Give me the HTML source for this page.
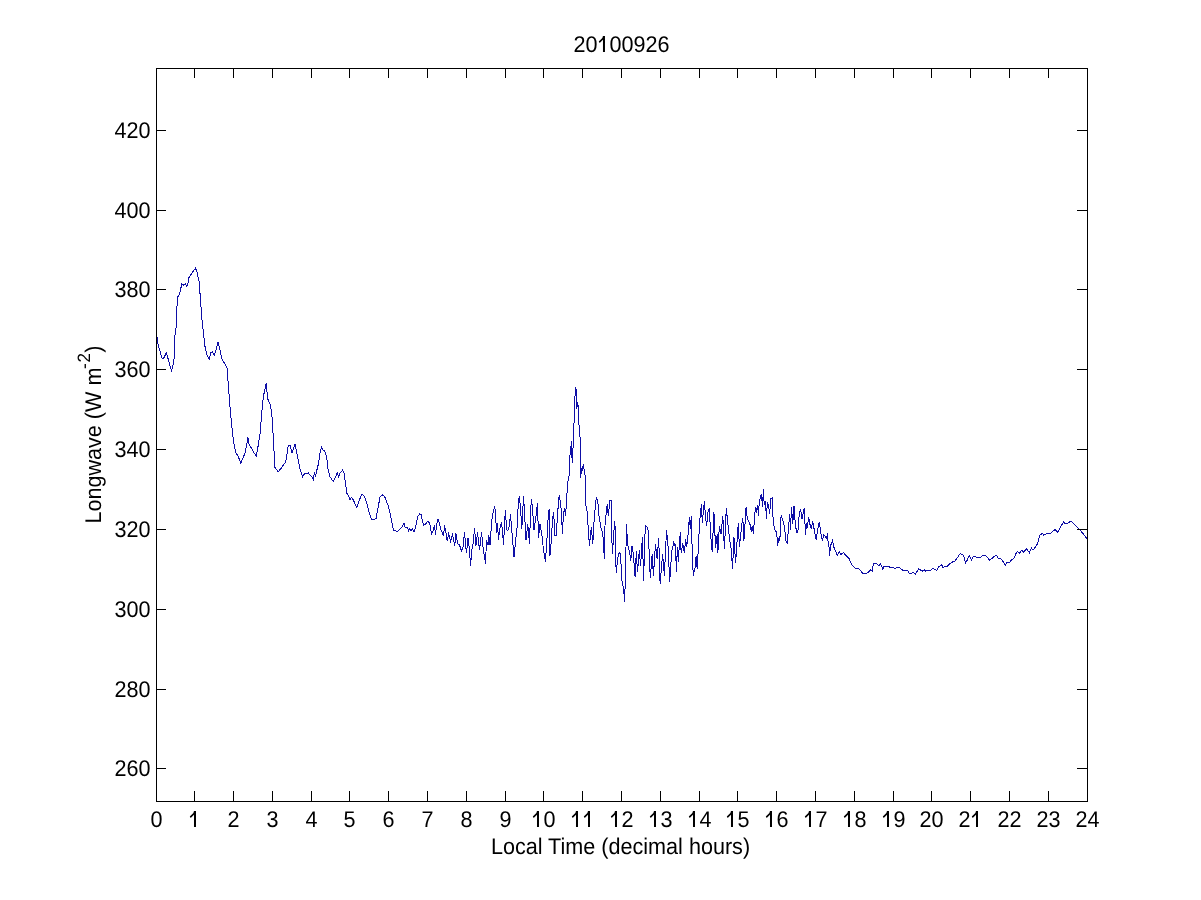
<!DOCTYPE html><html><head><meta charset="utf-8"><style>html,body{margin:0;padding:0;background:#fff;width:1201px;height:900px;overflow:hidden}svg{display:block}text{font-family:"Liberation Sans",sans-serif;fill:#000;text-rendering:geometricPrecision}svg{will-change:transform}</style></head><body>
<svg width="1201" height="900" viewBox="0 0 1201 900">
<rect x="0" y="0" width="1201" height="900" fill="#fff"/>
<path d="M157.2 336.6 L157.6 342.5 L159.4 349.0 L162.3 359.0 L164.5 356.9 L166.2 352.5 L167.3 356.0 L170.2 366.3 L171.7 370.6 L173.1 364.8 L174.3 357.6 L174.6 337.4 L176.0 328.7 L176.7 309.9 L177.7 296.9 L179.6 294.0 L181.8 283.9 L184.0 285.3 L185.4 283.9 L186.8 286.1 L188.3 282.5 L189.0 277.4 L191.9 273.1 L195.5 268.0 L197.0 272.3 L199.1 281.7 L200.6 301.2 L202.0 320.0 L204.9 346.0 L206.7 354.2 L209.2 359.2 L210.8 352.5 L212.5 351.7 L214.2 355.0 L215.8 350.8 L218.0 342.5 L220.0 350.0 L221.7 358.3 L225.0 364.2 L227.2 368.3 L228.3 385.0 L230.0 406.7 L231.7 425.0 L233.3 440.0 L235.8 452.5 L238.3 456.7 L240.8 463.3 L242.5 459.2 L245.0 453.3 L248.0 437.5 L249.2 445.0 L251.7 448.3 L254.2 453.3 L256.3 455.8 L258.3 445.0 L260.3 431.7 L261.7 413.3 L263.3 396.7 L266.3 383.3 L267.5 398.3 L270.0 404.2 L271.7 411.7 L273.3 438.3 L275.0 467.5 L278.3 471.7 L281.7 467.5 L285.8 461.7 L288.3 445.0 L290.0 445.0 L292.0 453.3 L295.0 444.2 L297.5 456.7 L300.0 468.7 L301.3 472.7 L302.7 476.7 L304.7 473.3 L306.7 474.0 L308.3 472.7 L310.0 475.3 L312.0 476.7 L313.3 479.3 L314.4 472.7 L315.7 476.0 L316.7 470.7 L318.4 464.0 L320.0 452.7 L321.6 447.3 L323.3 450.7 L324.7 450.7 L326.7 457.3 L328.0 468.7 L330.0 476.7 L333.1 481.3 L335.3 477.3 L337.3 472.7 L338.7 477.3 L340.0 473.3 L342.7 470.0 L344.3 473.3 L345.3 482.7 L346.9 493.3 L348.7 496.0 L350.0 500.0 L351.3 497.3 L353.3 500.0 L356.7 507.3 L359.3 500.0 L362.0 494.0 L364.7 496.7 L366.7 502.7 L368.7 510.7 L371.3 519.3 L373.3 519.3 L376.0 518.7 L378.0 508.0 L380.0 497.3 L382.0 494.7 L384.7 496.7 L388.0 505.3 L390.7 516.0 L393.3 530.0 L395.0 530.5 L397.0 532.0 L399.0 530.0 L402.0 527.0 L404.0 523.5 L405.0 527.0 L407.0 527.0 L408.5 530.5 L409.5 528.5 L411.0 530.5 L412.5 529.0 L414.0 531.5 L415.5 528.0 L417.5 517.0 L419.5 514.0 L421.2 514.5 L422.5 521.5 L423.5 525.0 L425.5 524.0 L427.5 521.5 L429.5 522.5 L431.5 534.0 L433.0 531.0 L434.5 525.5 L435.5 534.5 L436.5 525.0 L438.0 519.0 L439.5 524.0 L441.0 530.0 L442.5 533.0 L443.5 536.0 L444.5 525.5 L446.0 533.0 L447.2 541.0 L448.5 534.0 L449.5 537.0 L450.5 541.0 L452.5 535.0 L453.5 539.0 L454.7 546.0 L456.0 533.5 L457.5 543.5 L459.5 545.0 L461.5 551.0 L463.0 547.0 L464.5 532.5 L466.0 549.0 L466.5 553.0 L468.0 538.0 L469.5 550.0 L470.5 565.5 L472.0 549.0 L473.0 544.0 L474.5 528.5 L476.0 545.5 L477.5 532.5 L479.5 550.0 L481.5 532.5 L483.0 547.0 L485.5 563.5 L486.5 540.0 L488.0 545.0 L488.8 535.5 L490.0 545.0 L491.5 524.0 L492.5 515.0 L494.5 506.5 L495.5 512.0 L496.5 533.0 L497.5 523.5 L498.5 540.0 L499.5 530.0 L501.5 522.0 L502.5 531.0 L503.5 544.5 L505.0 516.0 L505.5 510.0 L506.5 529.0 L507.8 531.0 L509.0 527.0 L510.5 514.5 L512.0 533.0 L514.0 557.0 L515.5 542.0 L517.0 528.0 L518.5 500.0 L519.5 496.0 L521.0 516.0 L521.8 528.5 L523.5 496.5 L524.5 512.0 L526.0 540.0 L527.8 524.0 L529.5 544.0 L530.5 512.0 L531.5 499.0 L532.5 509.0 L534.0 530.0 L535.5 520.0 L537.5 503.0 L538.5 538.0 L540.0 524.0 L542.0 536.0 L543.5 550.0 L545.5 561.5 L547.0 538.0 L548.5 512.0 L549.5 509.0 L550.0 555.6 L551.7 535.6 L552.4 520.0 L553.6 512.2 L555.0 535.6 L556.1 535.6 L557.8 511.1 L559.1 495.6 L560.6 502.2 L561.7 516.7 L562.4 534.4 L563.3 516.7 L564.4 507.8 L565.6 515.6 L566.7 497.8 L567.8 481.1 L568.9 480.0 L569.4 460.0 L570.6 451.1 L571.4 441.1 L572.2 463.3 L573.1 446.7 L573.7 424.4 L574.4 422.2 L574.8 402.2 L575.3 387.2 L576.3 390.0 L576.7 408.9 L577.8 402.2 L578.3 409.4 L578.7 421.1 L580.0 436.7 L580.8 477.8 L581.3 467.8 L582.2 470.0 L583.3 464.4 L585.3 476.7 L585.8 504.4 L587.2 512.2 L589.4 545.6 L591.3 526.7 L592.8 544.4 L594.4 515.6 L596.4 496.7 L597.8 501.1 L598.9 515.6 L601.1 528.9 L602.8 533.3 L604.4 558.9 L605.0 525.6 L606.1 514.4 L607.2 504.4 L608.3 515.6 L610.0 500.0 L611.5 500.0 L611.8 536.7 L612.4 553.8 L614.6 521.4 L615.5 530.6 L616.1 573.3 L617.9 557.5 L619.2 552.6 L620.4 553.8 L622.2 584.4 L623.4 586.8 L624.7 601.5 L625.6 566.0 L626.5 524.4 L627.4 540.3 L628.3 548.9 L629.6 551.3 L630.8 561.1 L632.0 546.5 L633.2 552.6 L635.1 577.0 L636.3 551.3 L637.5 572.1 L639.3 550.1 L640.6 566.0 L642.4 536.7 L643.6 580.7 L644.8 536.7 L645.7 525.7 L647.9 528.1 L648.9 546.5 L650.3 578.2 L652.2 553.8 L653.4 575.8 L655.5 544.0 L657.1 558.7 L658.7 537.9 L660.1 584.4 L662.6 553.8 L664.4 575.8 L666.5 530.0 L668.1 546.5 L669.7 581.9 L671.7 551.3 L673.8 542.2 L674.8 545.2 L675.6 544.4 L676.3 572.2 L677.4 546.7 L678.3 562.2 L679.7 537.8 L680.6 532.2 L681.1 553.3 L682.8 543.3 L684.4 553.3 L685.6 538.9 L686.7 546.7 L688.3 532.2 L689.4 517.2 L690.3 528.9 L691.4 515.6 L692.2 552.2 L693.3 575.6 L695.0 567.8 L696.1 555.6 L697.2 568.9 L698.3 548.9 L699.4 525.6 L700.6 510.0 L701.7 504.4 L702.2 523.3 L704.4 501.1 L705.6 517.8 L706.7 525.6 L707.8 512.2 L709.4 508.3 L710.6 534.4 L712.2 552.2 L713.9 512.2 L715.6 547.8 L717.2 534.4 L717.8 553.3 L719.4 525.6 L721.1 534.4 L722.8 515.6 L724.4 548.9 L726.3 508.3 L727.8 523.3 L729.4 537.8 L731.1 548.9 L732.6 568.9 L733.9 536.7 L735.6 563.3 L737.2 538.9 L738.3 523.3 L739.4 546.7 L741.7 525.6 L742.8 517.8 L743.9 541.1 L746.1 506.7 L747.2 517.8 L749.4 523.3 L750.0 524.4 L751.3 531.6 L752.2 526.2 L753.6 534.2 L754.4 515.6 L755.8 506.7 L756.7 512.9 L757.6 504.9 L758.4 515.6 L759.3 502.2 L760.7 495.1 L761.6 494.2 L762.4 506.7 L763.5 488.9 L764.2 504.9 L765.6 502.2 L766.4 519.1 L767.3 503.1 L768.7 505.8 L769.6 513.8 L770.9 498.7 L772.7 497.8 L773.1 521.8 L774.9 529.8 L776.7 532.4 L777.6 545.8 L778.9 537.8 L779.8 540.4 L781.1 515.6 L782.9 520.9 L784.7 528.0 L785.6 540.4 L787.3 543.1 L788.7 526.2 L789.6 513.8 L790.4 529.8 L791.6 506.7 L792.7 524.4 L794.0 505.8 L795.3 523.6 L796.7 533.3 L798.0 529.8 L799.3 513.8 L800.7 509.3 L802.0 519.1 L804.2 508.4 L805.6 535.1 L806.4 522.7 L807.3 528.0 L808.7 517.3 L810.0 524.4 L811.3 528.9 L812.7 520.9 L814.4 530.7 L816.2 540.4 L817.6 529.8 L819.3 521.8 L820.7 532.4 L822.4 540.4 L823.8 535.1 L825.0 536.0 L826.5 538.2 L827.6 533.4 L828.0 541.2 L829.1 547.2 L829.5 555.5 L830.6 545.7 L832.5 540.5 L833.6 546.5 L837.4 555.5 L839.2 551.7 L840.7 554.7 L843.4 552.5 L845.2 554.7 L849.0 558.5 L851.6 564.5 L855.0 568.2 L858.0 568.2 L861.0 571.2 L863.2 573.9 L866.6 573.1 L868.5 572.0 L870.7 569.7 L872.2 571.2 L873.4 563.7 L876.7 563.4 L879.0 566.0 L880.5 563.7 L882.7 569.0 L884.2 566.0 L885.7 566.0 L888.7 566.7 L891.0 567.5 L894.7 568.2 L899.2 567.5 L903.0 570.5 L907.5 570.5 L910.0 574.1 L913.0 572.2 L915.2 574.5 L918.6 568.9 L922.4 571.1 L924.2 569.6 L925.7 571.1 L928.0 570.4 L930.2 570.7 L932.9 568.5 L936.6 570.4 L938.5 567.0 L941.9 564.7 L943.0 567.4 L945.2 566.2 L947.5 566.2 L949.7 563.6 L953.1 561.7 L955.0 561.0 L958.0 556.9 L960.2 553.5 L962.5 554.6 L963.6 555.7 L965.5 563.2 L967.0 560.6 L969.2 555.7 L971.5 559.9 L973.0 556.9 L976.0 556.9 L979.7 558.0 L982.0 556.1 L985.7 555.4 L989.5 560.2 L992.5 558.0 L995.0 555.9 L996.6 555.5 L998.2 558.3 L1000.9 558.7 L1002.9 561.4 L1005.3 565.4 L1006.9 562.2 L1009.2 563.0 L1010.8 560.6 L1014.0 558.3 L1016.0 553.5 L1017.5 551.5 L1019.5 553.1 L1021.5 550.3 L1023.9 552.3 L1026.3 548.4 L1029.4 552.7 L1031.4 548.0 L1033.0 550.0 L1036.1 546.0 L1037.7 543.2 L1039.7 535.3 L1042.5 533.3 L1043.7 535.3 L1047.2 533.3 L1050.4 533.3 L1055.1 529.4 L1057.5 532.5 L1063.8 521.5 L1064.6 523.4 L1067.0 523.4 L1071.0 521.1 L1076.5 526.6 L1080.4 530.6 L1084.4 535.3 L1087.2 538.9" fill="none" stroke="#0e0ea6" stroke-width="1" shape-rendering="crispEdges"/>
<g shape-rendering="crispEdges" stroke="#000" stroke-width="1" fill="none">
<path d="M156.5 68.5 H1087.5 V801.5 H156.5 Z"/>
<path d="M194.5 69 V78 M194.5 801 V791 M233.5 69 V78 M233.5 801 V791 M272.5 69 V78 M272.5 801 V791 M311.5 69 V78 M311.5 801 V791 M349.5 69 V78 M349.5 801 V791 M388.5 69 V78 M388.5 801 V791 M427.5 69 V78 M427.5 801 V791 M466.5 69 V78 M466.5 801 V791 M505.5 69 V78 M505.5 801 V791 M543.5 69 V78 M543.5 801 V791 M582.5 69 V78 M582.5 801 V791 M621.5 69 V78 M621.5 801 V791 M660.5 69 V78 M660.5 801 V791 M699.5 69 V78 M699.5 801 V791 M737.5 69 V78 M737.5 801 V791 M776.5 69 V78 M776.5 801 V791 M815.5 69 V78 M815.5 801 V791 M854.5 69 V78 M854.5 801 V791 M893.5 69 V78 M893.5 801 V791 M931.5 69 V78 M931.5 801 V791 M970.5 69 V78 M970.5 801 V791 M1009.5 69 V78 M1009.5 801 V791 M1048.5 69 V78 M1048.5 801 V791 M157 130.5 H166 M1087 130.5 H1077 M157 210.5 H166 M1087 210.5 H1077 M157 289.5 H166 M1087 289.5 H1077 M157 369.5 H166 M1087 369.5 H1077 M157 449.5 H166 M1087 449.5 H1077 M157 529.5 H166 M1087 529.5 H1077 M157 609.5 H166 M1087 609.5 H1077 M157 689.5 H166 M1087 689.5 H1077 M157 768.5 H166 M1087 768.5 H1077"/>
</g>
<text transform="translate(156.5 827) scale(1 1.05)" font-size="21.6"><tspan x="-6.01">0</tspan></text>

<text transform="translate(233.5 827) scale(1 1.05)" font-size="21.6"><tspan x="-6.01">2</tspan></text>
<text transform="translate(272.5 827) scale(1 1.05)" font-size="21.6"><tspan x="-6.01">3</tspan></text>
<text transform="translate(311.5 827) scale(1 1.05)" font-size="21.6"><tspan x="-6.01">4</tspan></text>
<text transform="translate(349.5 827) scale(1 1.05)" font-size="21.6"><tspan x="-6.01">5</tspan></text>
<text transform="translate(388.5 827) scale(1 1.05)" font-size="21.6"><tspan x="-6.01">6</tspan></text>
<text transform="translate(427.5 827) scale(1 1.05)" font-size="21.6"><tspan x="-6.01">7</tspan></text>
<text transform="translate(466.5 827) scale(1 1.05)" font-size="21.6"><tspan x="-6.01">8</tspan></text>
<text transform="translate(505.5 827) scale(1 1.05)" font-size="21.6"><tspan x="-6.01">9</tspan></text>
<text transform="translate(543.5 827) scale(1 1.05)" font-size="21.6"><tspan x="0.00">0</tspan></text>

<text transform="translate(621.5 827) scale(1 1.05)" font-size="21.6"><tspan x="0.00">2</tspan></text>
<text transform="translate(660.5 827) scale(1 1.05)" font-size="21.6"><tspan x="0.00">3</tspan></text>
<text transform="translate(699.5 827) scale(1 1.05)" font-size="21.6"><tspan x="0.00">4</tspan></text>
<text transform="translate(737.5 827) scale(1 1.05)" font-size="21.6"><tspan x="0.00">5</tspan></text>
<text transform="translate(776.5 827) scale(1 1.05)" font-size="21.6"><tspan x="0.00">6</tspan></text>
<text transform="translate(815.5 827) scale(1 1.05)" font-size="21.6"><tspan x="0.00">7</tspan></text>
<text transform="translate(854.5 827) scale(1 1.05)" font-size="21.6"><tspan x="0.00">8</tspan></text>
<text transform="translate(893.5 827) scale(1 1.05)" font-size="21.6"><tspan x="0.00">9</tspan></text>
<text transform="translate(931.5 827) scale(1 1.05)" font-size="21.6"><tspan x="-12.01">2</tspan><tspan x="0.00">0</tspan></text>
<text transform="translate(970.5 827) scale(1 1.05)" font-size="21.6"><tspan x="-12.01">2</tspan></text>
<text transform="translate(1009.5 827) scale(1 1.05)" font-size="21.6"><tspan x="-12.01">2</tspan><tspan x="0.00">2</tspan></text>
<text transform="translate(1048.5 827) scale(1 1.05)" font-size="21.6"><tspan x="-12.01">2</tspan><tspan x="0.00">3</tspan></text>
<text transform="translate(1087.5 827) scale(1 1.05)" font-size="21.6"><tspan x="-12.01">2</tspan><tspan x="0.00">4</tspan></text>
<text transform="translate(150.5 138) scale(1 1.05)" font-size="21.6"><tspan x="-36.04">4</tspan><tspan x="-24.03">2</tspan><tspan x="-12.01">0</tspan></text>
<text transform="translate(150.5 218) scale(1 1.05)" font-size="21.6"><tspan x="-36.04">4</tspan><tspan x="-24.03">0</tspan><tspan x="-12.01">0</tspan></text>
<text transform="translate(150.5 297) scale(1 1.05)" font-size="21.6"><tspan x="-36.04">3</tspan><tspan x="-24.03">8</tspan><tspan x="-12.01">0</tspan></text>
<text transform="translate(150.5 377) scale(1 1.05)" font-size="21.6"><tspan x="-36.04">3</tspan><tspan x="-24.03">6</tspan><tspan x="-12.01">0</tspan></text>
<text transform="translate(150.5 457) scale(1 1.05)" font-size="21.6"><tspan x="-36.04">3</tspan><tspan x="-24.03">4</tspan><tspan x="-12.01">0</tspan></text>
<text transform="translate(150.5 537) scale(1 1.05)" font-size="21.6"><tspan x="-36.04">3</tspan><tspan x="-24.03">2</tspan><tspan x="-12.01">0</tspan></text>
<text transform="translate(150.5 617) scale(1 1.05)" font-size="21.6"><tspan x="-36.04">3</tspan><tspan x="-24.03">0</tspan><tspan x="-12.01">0</tspan></text>
<text transform="translate(150.5 697) scale(1 1.05)" font-size="21.6"><tspan x="-36.04">2</tspan><tspan x="-24.03">8</tspan><tspan x="-12.01">0</tspan></text>
<text transform="translate(150.5 776) scale(1 1.05)" font-size="21.6"><tspan x="-36.04">2</tspan><tspan x="-24.03">6</tspan><tspan x="-12.01">0</tspan></text>
<text transform="translate(621.5 52) scale(1 1.05)" font-size="21.6"><tspan x="-48.05">2</tspan><tspan x="-36.04">0</tspan><tspan x="-12.01">0</tspan><tspan x="0.00">0</tspan><tspan x="12.01">9</tspan><tspan x="24.03">2</tspan><tspan x="36.04">6</tspan></text>
<text transform="translate(620.5 854) scale(1 1.05)" font-size="21.6" text-anchor="middle">Local Time (decimal hours)</text>
<text transform="translate(101 434.5) rotate(-90) scale(1 1.05)" font-size="21.6" text-anchor="middle">Longwave (W m<tspan font-size="17" dx="-1.5" dy="-10.5">-<tspan dx="0.8">2</tspan></tspan><tspan dx="0.5" dy="10.5">)</tspan></text>
<path fill="#000" d="M193.99 811.00h2v16h-2v-12.2l-3.3 3.1l-0.9-1.5l3.6-3.3zM536.99 811.00h2v16h-2v-12.2l-3.3 3.1l-0.9-1.5l3.6-3.3zM575.99 811.00h2v16h-2v-12.2l-3.3 3.1l-0.9-1.5l3.6-3.3zM588.00 811.00h2v16h-2v-12.2l-3.3 3.1l-0.9-1.5l3.6-3.3zM614.99 811.00h2v16h-2v-12.2l-3.3 3.1l-0.9-1.5l3.6-3.3zM653.99 811.00h2v16h-2v-12.2l-3.3 3.1l-0.9-1.5l3.6-3.3zM692.99 811.00h2v16h-2v-12.2l-3.3 3.1l-0.9-1.5l3.6-3.3zM730.99 811.00h2v16h-2v-12.2l-3.3 3.1l-0.9-1.5l3.6-3.3zM769.99 811.00h2v16h-2v-12.2l-3.3 3.1l-0.9-1.5l3.6-3.3zM808.99 811.00h2v16h-2v-12.2l-3.3 3.1l-0.9-1.5l3.6-3.3zM847.99 811.00h2v16h-2v-12.2l-3.3 3.1l-0.9-1.5l3.6-3.3zM886.99 811.00h2v16h-2v-12.2l-3.3 3.1l-0.9-1.5l3.6-3.3zM976.00 811.00h2v16h-2v-12.2l-3.3 3.1l-0.9-1.5l3.6-3.3zM602.97 36.00h2v16h-2v-12.2l-3.3 3.1l-0.9-1.5l3.6-3.3z"/>
</svg></body></html>
